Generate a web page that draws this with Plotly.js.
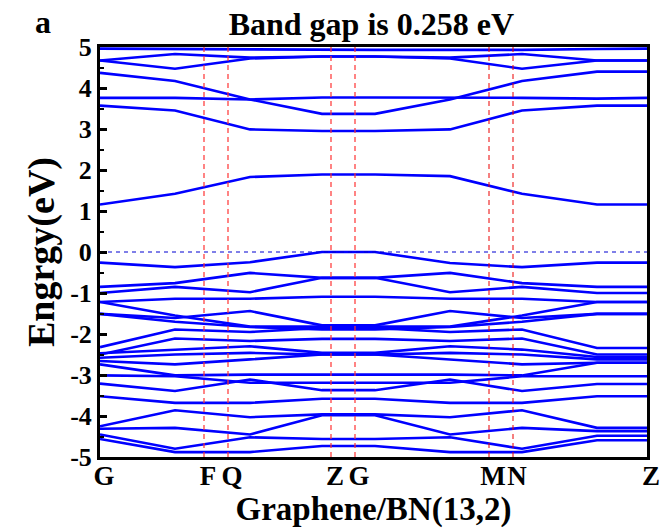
<!DOCTYPE html>
<html><head><meta charset="utf-8">
<script src="https://cdn.plot.ly/plotly-3.0.1.min.js"></script>
<style>html,body{margin:0;padding:0;background:#fff}#chart{width:662px;height:530px}</style>
</head><body><div id="chart"></div><script>
// high-symmetry k-points (path coordinate) and their labels
const kLabels = ['G','F','Q','Z','G','M','N','Z'];
const kPos = [0,104,128,231,255,389,413,547];
// k coordinates where the bands were sampled
const kSample = [0,75,150,222,275,350,422,497,547];

// conduction bands (eV)
const cb1 = [1.16,1.42,1.83,1.89,1.89,1.85,1.42,1.16,1.16];
const cb2 = [3.57,3.45,2.99,2.95,2.95,2.99,3.45,3.57,3.57];
const cb3 = [3.76,3.76,3.72,3.77,3.77,3.77,3.76,3.74,3.76];
const cb4 = [4.37,4.17,3.72,3.37,3.37,3.72,4.17,4.40,4.40];
const cb5 = [4.67,4.83,4.74,4.77,4.77,4.74,4.83,4.67,4.67];
const cb6 = [4.67,4.47,4.72,4.77,4.77,4.72,4.47,4.67,4.67];
const cb7 = [4.96,4.95,4.93,4.93,4.93,4.93,4.93,4.95,4.96];

// valence bands (eV)
const vb1 = [-0.26,-0.37,-0.25,0.00,0.00,-0.27,-0.37,-0.26,-0.26];
const vb2 = [-0.85,-0.76,-0.51,-0.63,-0.63,-0.51,-0.76,-0.85,-0.85];
const vb3 = [-1.00,-0.85,-0.98,-0.63,-0.63,-0.98,-0.85,-1.00,-1.00];
const vb4 = [-1.22,-1.14,-1.14,-1.09,-1.09,-1.14,-1.14,-1.22,-1.22];
const vb5 = [-1.22,-1.55,-1.82,-1.82,-1.82,-1.82,-1.55,-1.22,-1.22];
const vb6 = [-1.51,-1.61,-1.44,-1.79,-1.79,-1.44,-1.61,-1.51,-1.51];
const vb7 = [-1.51,-1.70,-1.83,-1.89,-1.89,-1.83,-1.70,-1.51,-1.51];
const vb8 = [-2.32,-1.89,-1.95,-1.85,-1.85,-1.95,-1.89,-2.34,-2.34];
const vb9 = [-2.50,-2.11,-2.17,-2.12,-2.12,-2.17,-2.11,-2.50,-2.50];
const vb10 = [-2.47,-2.38,-2.30,-2.46,-2.46,-2.30,-2.38,-2.56,-2.56];
const vb11 = [-2.58,-2.50,-2.46,-2.50,-2.50,-2.46,-2.50,-2.62,-2.62];
const vb12 = [-2.66,-2.74,-2.62,-2.50,-2.50,-2.62,-2.74,-2.70,-2.70];
const vb13 = [-2.74,-3.01,-2.99,-2.99,-2.99,-2.99,-3.01,-2.70,-2.70];
const vb14 = [-3.01,-3.03,-3.19,-3.19,-3.19,-3.19,-3.03,-3.03,-3.03];
const vb15 = [-3.21,-3.39,-3.11,-3.37,-3.37,-3.11,-3.39,-3.22,-3.22];
const vb16 = [-3.52,-3.68,-3.68,-3.58,-3.58,-3.68,-3.68,-3.52,-3.52];
const vb17 = [-4.25,-3.86,-4.03,-3.96,-3.96,-4.03,-3.86,-4.29,-4.29];
const vb18 = [-4.31,-4.29,-4.45,-3.98,-3.98,-4.45,-4.29,-4.37,-4.37];
const vb19 = [-4.45,-4.80,-4.52,-4.56,-4.56,-4.52,-4.80,-4.48,-4.48];
const vb20 = [-4.56,-4.88,-4.88,-4.73,-4.73,-4.88,-4.88,-4.59,-4.59];

const yTickVals = [-5,-4,-3,-2,-1,0,1,2,3,4,5];
const yTickText = ['-5','-4','-3','-2','-1','0','1','2','3','4','5'];

const bandList = [cb1,cb2,cb3,cb4,cb5,cb6,cb7,vb1,vb2,vb3,vb4,vb5,vb6,vb7,vb8,vb9,vb10,
                  vb11,vb12,vb13,vb14,vb15,vb16,vb17,vb18,vb19,vb20];
const FONT = 'Liberation Serif, Times New Roman, serif';
const traces = [];
bandList.forEach(b => traces.push({x:kSample, y:b, type:'scatter', mode:'lines',
  line:{color:'#0000ff', width:2.6}, hoverinfo:'skip', showlegend:false}));
// Fermi level
traces.push({x:[kPos[0], kPos[kPos.length-1]], y:[0,0], type:'scatter', mode:'lines',
  line:{color:'rgb(0,0,210)', width:1.2, dash:'4px,4px'}, hoverinfo:'skip', showlegend:false});
// high-symmetry vertical lines
for (let i = 1; i < kPos.length-1; i++) {
  const dark = i >= 5;
  traces.push({x:[kPos[i],kPos[i]], y:[-5,5], type:'scatter', mode:'lines',
    line:{color: dark ? 'rgb(235,0,0)' : 'rgba(255,50,50,0.75)', width: dark ? 1 : 1.6, dash:'5px,4px'},
    hoverinfo:'skip', showlegend:false});
}

const layout = {
  width:662, height:530,
  margin:{l:100, r:15, t:47, b:73},
  paper_bgcolor:'#fff', plot_bgcolor:'#fff',
  font:{family:FONT, color:'#000'},
  title:{text:'Band gap is 0.258 eV', font:{family:FONT, size:32, weight:'bold', color:'#000'},
         x:0.561, xanchor:'center', y:0.955, yanchor:'middle'},
  xaxis:{range:[0,547], tickvals:kPos, ticktext:kLabels, tickangle:0, ticklabelshift:4, ticklabelstandoff:-7,
         showgrid:false, zeroline:false,
         showline:true, linewidth:3, linecolor:'#000', mirror:true, ticks:'',
         tickfont:{family:FONT, size:27, weight:'bold', color:'#000'},
         title:{text:'Graphene/BN(13,2)', font:{family:FONT, size:33, weight:'bold', color:'#000'}, standoff:4}},
  yaxis:{range:[-5,5], tickvals:yTickVals, ticktext:yTickText, showgrid:false, zeroline:false,
         showline:true, linewidth:3, linecolor:'#000', mirror:true,
         ticks:'inside', ticklen:7, tickwidth:3, tickcolor:'#000',
         minor:{tickvals:[-4.5,-3.5,-2.5,-1.5,-0.5,0.5,1.5,2.5,3.5,4.5], ticks:'inside', ticklen:4, tickwidth:2, tickcolor:'#000'},
         tickfont:{family:FONT, size:26, weight:'bold', color:'#000'},
         title:{text:'Engrgy(eV)', font:{family:FONT, size:38, weight:'bold', color:'#000'}, standoff:4}},
  annotations:[{text:'a', xref:'paper', yref:'paper', x:-0.104, y:1.061, xanchor:'center', yanchor:'middle',
    showarrow:false, font:{family:FONT, size:32, weight:'bold', color:'#000'}}]
};
Plotly.newPlot('chart', traces, layout, {displayModeBar:false, staticPlot:true});
</script></body></html>
